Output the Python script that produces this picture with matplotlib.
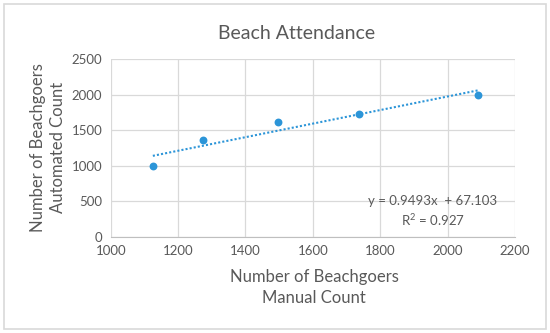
import matplotlib
matplotlib.use("Agg")
import matplotlib.pyplot as plt
import numpy as np
from matplotlib.patches import Rectangle

manual = [1125, 1275, 1497, 1737, 2090]
automated = [1000, 1360, 1612, 1733, 2000]
title = "Beach Attendance"
xlabel = "Number of Beachgoers\nManual Count"
ylabel = "Number of Beachgoers\nAutomated Count"
eq_text = "y = 0.9493x  + 67.103\nR$^2$ = 0.927"

plt.rcParams['font.family'] = ['Lato', 'DejaVu Sans']
plt.rcParams['mathtext.fontset'] = 'custom'
plt.rcParams['mathtext.rm'] = 'Lato'
txt = '#595959'
blue = '#2c95d8'

fig = plt.figure(figsize=(5.5, 3.33), dpi=100)
fig.patches.append(Rectangle((0.008, 0.012), 0.984, 0.976, transform=fig.transFigure,
                             fill=False, edgecolor='#d9d9d9', linewidth=1.2))
ax = fig.add_axes([0.2013, 0.2892, 0.7351, 0.5327])

x = np.array(manual, dtype=float)
y = np.array(automated, dtype=float)
m, b = np.polyfit(x, y, 1)
xs = np.array([x.min(), x.max()])
ax.plot(xs, m * xs + b, linestyle=(0, (1, 1)), color=blue, linewidth=1.5, zorder=2)
ax.scatter(x, y, s=32, color=blue, zorder=3, linewidths=0)

ax.set_xlim(1000, 2200)
ax.set_ylim(0, 2500)
ax.set_xticks(np.arange(1000, 2201, 200))
ax.set_yticks(np.arange(0, 2501, 500))
ax.grid(True, color='#d9d9d9', linewidth=0.9)
ax.set_axisbelow(True)
for s in ['top', 'right', 'left']:
    ax.spines[s].set_visible(False)
ax.spines['bottom'].set_color('#bfbfbf')
ax.tick_params(length=0, labelsize=9.5, colors=txt, pad=6)

fig.text(0.54, 0.90, title, ha='center', va='center', fontsize=14, color=txt)
fig.text(0.5715, 0.137, xlabel, ha='center', va='center', fontsize=12, color=txt, linespacing=1.35)
fig.text(0.087, 0.558, ylabel, ha='center', va='center', fontsize=12, color=txt,
         rotation=90, linespacing=1.35)
ax.text(0.797, 0.142, eq_text, transform=ax.transAxes, ha='center', va='center',
        fontsize=9.5, color=txt, linespacing=1.4)

fig.savefig("out.png", dpi=100)
